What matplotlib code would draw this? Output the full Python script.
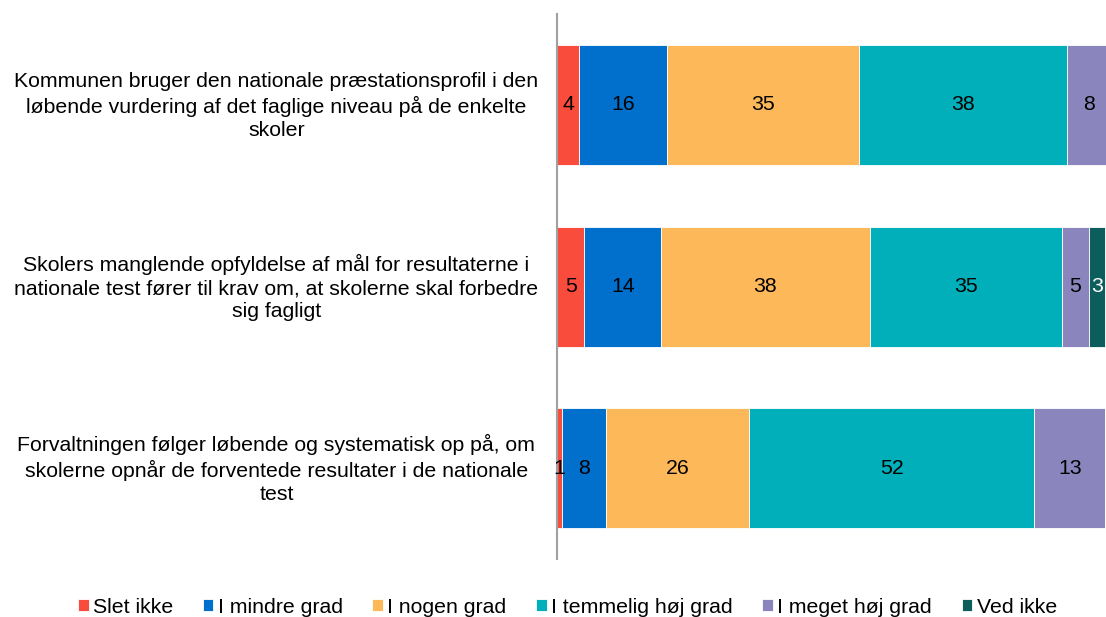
import matplotlib
matplotlib.use("Agg")
import matplotlib.pyplot as plt
import matplotlib.transforms as mtransforms
import numpy as np

plt.rcParams['font.family'] = ['Liberation Sans', 'DejaVu Sans']

categories = [
    "Kommunen bruger den nationale præstationsprofil i den\nløbende vurdering af det faglige niveau på de enkelte\nskoler",
    "Skolers manglende opfyldelse af mål for resultaterne i\nnationale test fører til krav om, at skolerne skal forbedre\nsig fagligt",
    "Forvaltningen følger løbende og systematisk op på, om\nskolerne opnår de forventede resultater i de nationale\ntest",
]
series_names = ["Slet ikke", "I mindre grad", "I nogen grad",
                "I temmelig høj grad", "I meget høj grad", "Ved ikke"]
values = {
    "Slet ikke":           [4, 5, 1],
    "I mindre grad":       [16, 14, 8],
    "I nogen grad":        [35, 38, 26],
    "I temmelig høj grad": [38, 35, 52],
    "I meget høj grad":    [8, 5, 13],
    "Ved ikke":            [0, 3, 0],
}
colors = ["#F94C3C", "#0070CC", "#FDB85A", "#00AFBA", "#8A86BD", "#0B5E5C"]
label_colors = ["black", "black", "black", "black", "black", "white"]

FS = 15.3

fig = plt.figure(figsize=(11.06, 6.17), dpi=100)
ax = fig.add_axes([0.5036, 0.094, 0.4964, 0.883])

y = np.arange(len(categories))
left = np.zeros(len(categories))
handles = []
for name, col, tcol in zip(series_names, colors, label_colors):
    vals = np.array(values[name], dtype=float)
    bars = ax.barh(y, vals, left=left, height=0.66, color=col,
                   edgecolor="white", linewidth=0.6, label=name)
    for rect, v in zip(bars, vals):
        if v > 0:
            ax.text(rect.get_x() + rect.get_width() / 2,
                    rect.get_y() + rect.get_height() / 2,
                    f"{int(v)}", ha="center", va="center",
                    fontsize=FS, color=tcol)
    left += vals
    handles.append(bars)

ax.set_xlim(0, 100.1)
ax.set_ylim(2.5, -0.5)
ax.set_yticks(y)
ax.set_yticklabels(categories, fontsize=FS, ha="center", linespacing=1.26)
ax.tick_params(axis="y", length=0, pad=202)
# nudge the category labels up slightly so the middle line sits on the bar centre
shift = mtransforms.ScaledTranslation(0, 3 / 100, fig.dpi_scale_trans)
for lbl in ax.get_yticklabels():
    lbl.set_transform(lbl.get_transform() + shift)
ax.set_xticks([])
for s in ["top", "right", "bottom"]:
    ax.spines[s].set_visible(False)
ax.spines["left"].set_color("#A0A0A0")
ax.spines["left"].set_linewidth(1.5)

fig.legend(handles=handles, labels=series_names, loc="center",
           bbox_to_anchor=(0.513, 0.016), ncol=6, frameon=False,
           fontsize=FS, handlelength=0.5, handleheight=0.5,
           handletextpad=0.2, columnspacing=1.4)

fig.savefig("out.png", dpi=100)
